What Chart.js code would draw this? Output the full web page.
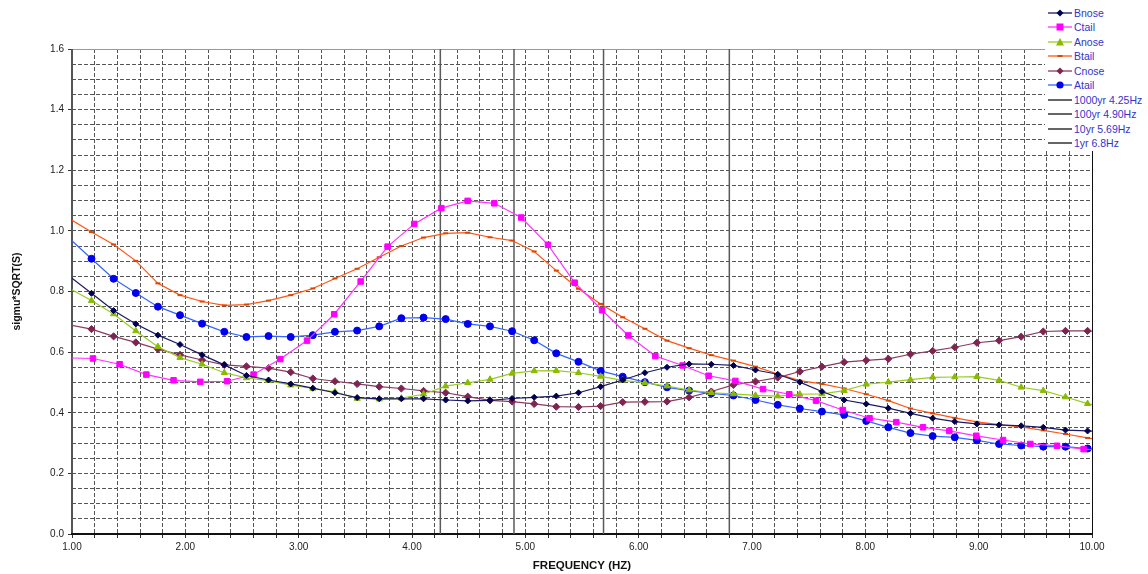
<!DOCTYPE html>
<html><head><meta charset="utf-8">
<script src="https://cdn.jsdelivr.net/npm/chart.js@4.4.1/dist/chart.umd.min.js"></script>
<style>
html,body{margin:0;padding:0;background:#fff;}
#wrap{position:relative;width:1148px;height:574px;}
#legend{position:absolute;left:1045px;top:5px;width:103px;height:146px;background:#fff;font-family:"Liberation Sans",Arial,sans-serif;font-size:10.5px;color:#3333cc;}
.row{position:absolute;left:0;height:14px;display:flex;align-items:center;}
.row svg{margin-left:3px;flex:none;}
.row span{margin-left:2px;white-space:nowrap;line-height:14px;}
</style></head><body>
<div id="wrap"><canvas id="c" width="1148" height="574"></canvas><div id="legend"></div></div>
<script>
// frequencies (Hz) of the nose / tail spectra samples
const freq = [0.977,1.172,1.367,1.563,1.758,1.953,2.148,2.344,2.539,2.734,2.930,3.125,3.320,3.516,3.711,3.906,4.102,4.297,4.492,4.688,4.883,5.078,5.273,5.469,5.664,5.859,6.055,6.250,6.445,6.641,6.836,7.031,7.227,7.422,7.617,7.813,8.008,8.203,8.398,8.594,8.789,8.984,9.180,9.375,9.570,9.766,9.961,10.156];
const bnose = [0.850,0.794,0.737,0.693,0.656,0.625,0.591,0.558,0.523,0.508,0.495,0.481,0.466,0.450,0.446,0.446,0.446,0.442,0.439,0.441,0.447,0.451,0.455,0.466,0.486,0.508,0.532,0.550,0.561,0.560,0.556,0.541,0.527,0.501,0.470,0.442,0.429,0.415,0.398,0.382,0.371,0.363,0.360,0.357,0.352,0.343,0.340,0.338];
const anose = [0.810,0.770,0.726,0.670,0.618,0.582,0.560,0.532,0.515,0.506,0.491,0.480,0.469,0.447,0.445,0.448,0.461,0.488,0.499,0.510,0.530,0.538,0.539,0.532,0.520,0.507,0.499,0.488,0.475,0.466,0.462,0.457,0.455,0.461,0.462,0.473,0.494,0.501,0.509,0.517,0.518,0.519,0.507,0.484,0.473,0.452,0.430,0.415];
const btail = [1.040,0.996,0.955,0.901,0.827,0.788,0.767,0.754,0.757,0.770,0.788,0.810,0.843,0.875,0.913,0.950,0.978,0.992,0.994,0.979,0.968,0.932,0.869,0.809,0.759,0.715,0.677,0.638,0.613,0.590,0.572,0.552,0.528,0.506,0.495,0.480,0.461,0.440,0.414,0.398,0.383,0.370,0.361,0.353,0.342,0.330,0.317,0.305];
const cnose = [0.690,0.676,0.652,0.632,0.610,0.591,0.574,0.558,0.553,0.547,0.534,0.513,0.504,0.495,0.486,0.480,0.472,0.466,0.453,0.441,0.437,0.429,0.420,0.419,0.422,0.435,0.436,0.437,0.451,0.470,0.492,0.503,0.516,0.536,0.552,0.567,0.573,0.578,0.593,0.604,0.616,0.631,0.638,0.651,0.668,0.670,0.670,0.664];
const atail = [0.975,0.908,0.842,0.795,0.750,0.722,0.694,0.667,0.650,0.653,0.650,0.656,0.667,0.671,0.685,0.712,0.714,0.709,0.693,0.685,0.669,0.639,0.596,0.568,0.538,0.519,0.501,0.484,0.473,0.464,0.457,0.442,0.426,0.414,0.404,0.393,0.373,0.352,0.333,0.323,0.319,0.309,0.297,0.292,0.288,0.288,0.282,0.272];
// Ctail spectrum has its own frequency samples
const ctailFreq = [0.949,1.185,1.420,1.656,1.896,2.132,2.368,2.602,2.838,3.074,3.314,3.547,3.785,4.020,4.259,4.491,4.726,4.964,5.200,5.435,5.677,5.909,6.147,6.388,6.617,6.853,7.097,7.329,7.565,7.800,8.037,8.273,8.509,8.741,8.979,9.215,9.456,9.691,9.926,10.162];
const ctail = [0.581,0.579,0.560,0.526,0.507,0.502,0.504,0.526,0.577,0.638,0.725,0.833,0.948,1.023,1.075,1.099,1.091,1.044,0.954,0.829,0.738,0.655,0.587,0.556,0.522,0.505,0.478,0.461,0.440,0.409,0.382,0.369,0.352,0.340,0.324,0.310,0.297,0.291,0.280,0.275];
// return-period frequencies
const periodLabels = ['1000yr 4.25Hz','100yr 4.90Hz','10yr 5.69Hz','1yr 6.8Hz'];
const periodFreq = [4.25, 4.90, 5.69, 6.8];
// tick labels
const xTickLabels = ['1.00','2.00','3.00','4.00','5.00','6.00','7.00','8.00','9.00','10.00'];
const yTickLabels = ['0.0','0.2','0.4','0.6','0.8','1.0','1.2','1.4','1.6'];

const FONT = '"Liberation Sans", Arial, sans-serif';
const pts = (xs, ys) => xs.map((x, i) => ({x: x, y: ys[i]}));
const inRange = r => (c) => { const x = c.raw && c.raw.x; return (x < 1 || x > 10) ? 0 : r; };

function series(label, xs, ys, line, mark, style, r, bw) {
  return {label, data: pts(xs, ys), borderColor: line, backgroundColor: mark, borderWidth: 1.2,
    pointStyle: style, pointRadius: inRange(r), pointHoverRadius: inRange(r), pointBackgroundColor: mark,
    pointBorderColor: mark, pointBorderWidth: bw || 1, tension: 0, fill: false, clip: 0, _legend: style};
}
const datasets = [
  series('Bnose', freq, bnose, '#1a1a66', '#000050', 'rectRot', 3, 1),
  series('Ctail', ctailFreq, ctail, '#ff33ff', '#ff00ff', 'rect', 3.9, 1),
  series('Anose', freq, anose, '#99cc22', '#88bb00', 'triangle', 3.6, 1),
  series('Btail', freq, btail, '#ff5511', '#dd4400', 'line', 2.5, 2),
  series('Cnose', freq, cnose, '#8b3a60', '#7f2450', 'rectRot', 3.6, 1),
  series('Atail', freq, atail, '#3366ff', '#0000ee', 'circle', 3.5, 1)
];
periodFreq.forEach((f, i) => {
  datasets.push({label: periodLabels[i], data: [{x: f, y: 0}, {x: f, y: 1.6}], borderColor: '#5a5a5a',
    borderWidth: 1.5, pointRadius: 0, pointHoverRadius: 0, fill: false, clip: 0, _legend: 'none', _legendColor: '#111'});
});

const isMult = (v, s) => Math.abs(v / s - Math.round(v / s)) < 1e-6;

const framePlugin = {
  id: 'frame',
  beforeDatasetsDraw(chart) {
    const {ctx, chartArea: a} = chart;
    ctx.save();
    ctx.lineWidth = 1; ctx.strokeStyle = '#9a9a9a';
    ctx.beginPath(); ctx.moveTo(a.left, a.top + 0.5); ctx.lineTo(a.right, a.top + 0.5); ctx.stroke();
    ctx.strokeStyle = '#111';
    ctx.beginPath(); ctx.moveTo(a.right + 0.5, a.top); ctx.lineTo(a.right + 0.5, a.bottom); ctx.stroke();
    ctx.lineWidth = 2; ctx.strokeStyle = '#555';
    ctx.beginPath(); ctx.moveTo(a.left, a.top); ctx.lineTo(a.left, a.bottom + 1); ctx.stroke();
    ctx.strokeStyle = '#111';
    ctx.beginPath(); ctx.moveTo(a.left - 1, a.bottom); ctx.lineTo(a.right + 1, a.bottom); ctx.stroke();
    ctx.restore();
  }
};

const chart = new Chart(document.getElementById('c'), {
  type: 'line',
  data: {datasets},
  plugins: [framePlugin],
  options: {
    responsive: false, animation: false, devicePixelRatio: 1,
    layout: {padding: {left: 0, right: 56, top: 49, bottom: 0}},
    plugins: {legend: {display: false}, tooltip: {enabled: false}},
    scales: {
      x: {
        type: 'linear', min: 1, max: 10,
        ticks: {stepSize: 0.2, autoSkip: false, maxRotation: 0, padding: 3, color: '#222',
          font: {family: FONT, size: 10},
          callback: v => isMult(v - 1, 1) ? xTickLabels[Math.round(v - 1)] : ''},
        grid: {color: '#555', lineWidth: 1, tickLength: 4, tickColor: '#333', tickWidth: 1},
        border: {display: false, dash: [4, 2]},
        title: {display: true, text: 'FREQUENCY (HZ)', color: '#111',
          font: {family: FONT, size: 11.5, weight: 'bold'}, padding: {top: 0, bottom: 1}},
        afterFit: s => { s.height = 40; }
      },
      y: {
        type: 'linear', min: 0, max: 1.6,
        ticks: {stepSize: 0.05, autoSkip: false, padding: 4, color: '#222',
          font: {family: FONT, size: 10},
          callback: v => isMult(v, 0.2) ? yTickLabels[Math.round(v / 0.2)] : ''},
        grid: {color: '#555', lineWidth: 1, tickLength: 4, tickWidth: 1,
          tickColor: c => (c.tick && isMult(c.tick.value, 0.2)) ? '#333' : 'rgba(0,0,0,0)'},
        border: {display: false, dash: [4, 2]},
        title: {display: true, text: 'sigmu*SQRT(S)', color: '#111',
          font: {family: FONT, size: 10.5, weight: 'bold'}, padding: {top: 11, bottom: 0}},
        afterFit: s => { s.width = 72; }
      }
    }
  }
});

// legend built from the datasets
const leg = document.getElementById('legend');
const NS = 'http://www.w3.org/2000/svg';
datasets.forEach((d, i) => {
  const row = document.createElement('div');
  row.className = 'row';
  row.style.top = (1 + i * 14.45) + 'px';
  const col = d._legendColor || d.borderColor;
  const mk = d.pointBackgroundColor;
  let m = '';
  if (d._legend === 'rectRot') m = `<polygon points="12,1.5 15.5,5 12,8.5 8.5,5" fill="${mk}"/>`;
  else if (d._legend === 'rect') m = `<rect x="8.5" y="1.5" width="7" height="7" fill="${mk}"/>`;
  else if (d._legend === 'triangle') m = `<polygon points="12,1 16,8.5 8,8.5" fill="${mk}"/>`;
  else if (d._legend === 'line') m = `<line x1="9.5" y1="5" x2="14.5" y2="5" stroke="${mk}" stroke-width="2"/>`;
  else if (d._legend === 'circle') m = `<circle cx="12" cy="5" r="3.6" fill="${mk}"/>`;
  row.innerHTML = `<svg xmlns="${NS}" width="24" height="10" viewBox="0 0 24 10"><line x1="0" y1="5" x2="24" y2="5" stroke="${col}" stroke-width="1.3"/>${m}</svg><span>${d.label}</span>`;
  leg.appendChild(row);
});
</script>
</body></html>
